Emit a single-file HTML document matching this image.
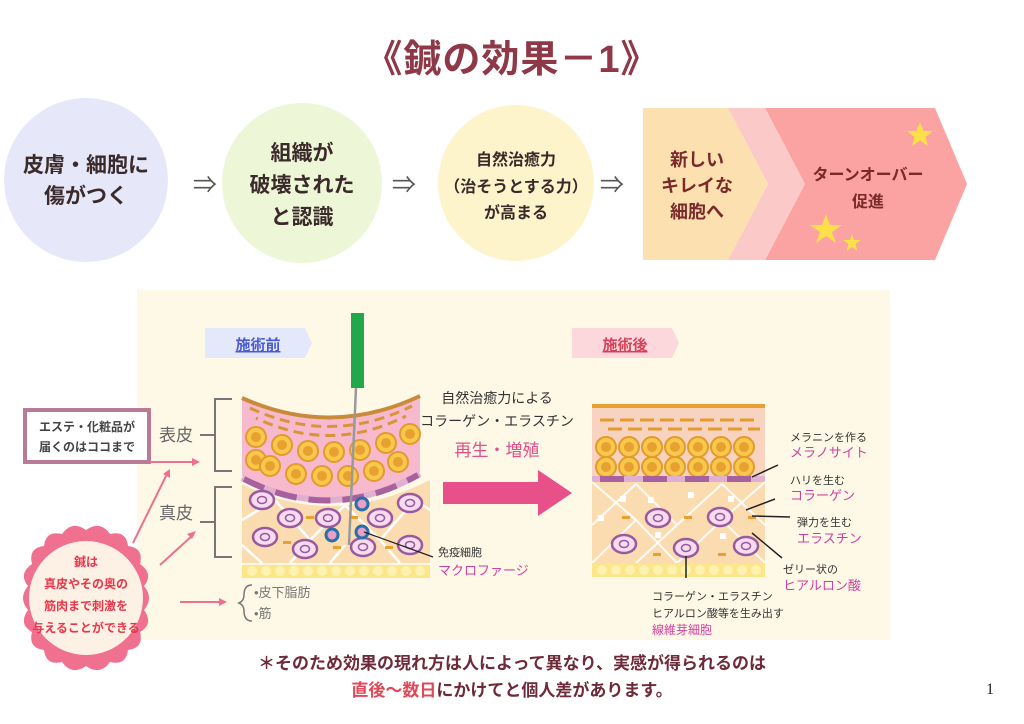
<!DOCTYPE html>
<html><head><meta charset="utf-8"><style>
html,body{margin:0;padding:0;background:#fff;}
svg{display:block;font-family:"Liberation Sans","Noto Sans CJK JP",sans-serif;}
.b{font-weight:bold;}
</style></head><body>
<svg width="1024" height="724" viewBox="0 0 1024 724" xmlns="http://www.w3.org/2000/svg">
<defs>
<g id="ec"><circle r="10" fill="#f7c84a" stroke="#e39a2e" stroke-width="2"/><circle r="5" fill="#e8a030"/></g>
<g id="dc"><ellipse rx="12" ry="9" fill="#f7dcef" stroke="#9a5aa0" stroke-width="2.5"/><ellipse rx="4.5" ry="3.5" fill="none" stroke="#9a5aa0" stroke-width="1.5"/></g>
<g id="ic"><circle r="6" fill="#e9a0c8" stroke="#2b6fa8" stroke-width="3"/></g>
</defs>

<text x="512" y="72" text-anchor="middle" font-size="38" class="b" fill="#8e3848" letter-spacing="1">《鍼の効果－1》</text>

<circle cx="86" cy="180" r="82" fill="#e6e8fa"/>
<text x="86" y="172" text-anchor="middle" font-size="21" class="b" fill="#3a2a2a">皮膚・細胞に</text>
<text x="86" y="203" text-anchor="middle" font-size="21" class="b" fill="#3a2a2a">傷がつく</text>
<circle cx="302" cy="183" r="80" fill="#eef6d8"/>
<text x="302" y="160" text-anchor="middle" font-size="21" class="b" fill="#3a2a2a">組織が</text>
<text x="302" y="192" text-anchor="middle" font-size="21" class="b" fill="#3a2a2a">破壊された</text>
<text x="302" y="224" text-anchor="middle" font-size="21" class="b" fill="#3a2a2a">と認識</text>
<circle cx="516" cy="183" r="78" fill="#fdf4cc"/>
<text x="516" y="165" text-anchor="middle" font-size="16" class="b" fill="#3a2a2a">自然治癒力</text>
<text x="516" y="192" text-anchor="middle" font-size="16" class="b" fill="#3a2a2a">（治そうとする力）</text>
<text x="516" y="218" text-anchor="middle" font-size="16" class="b" fill="#3a2a2a">が高まる</text>
<text x="205" y="193" text-anchor="middle" font-size="24" fill="#555">⇒</text>
<text x="404" y="193" text-anchor="middle" font-size="24" fill="#555">⇒</text>
<text x="612" y="193" text-anchor="middle" font-size="24" fill="#555">⇒</text>

<polygon points="765,108 935,108 967,184 935,260 765,260 805,184" fill="#fba2a2"/>
<polygon points="728,108 765,108 805,184 765,260 728,260 768,184" fill="#fcc9c9"/>
<polygon points="643,108 728,108 768,184 728,260 643,260" fill="#fde0b0"/>
<text x="697" y="166" text-anchor="middle" font-size="18" class="b" fill="#7a2a2a">新しい</text>
<text x="697" y="192" text-anchor="middle" font-size="18" class="b" fill="#7a2a2a">キレイな</text>
<text x="697" y="218" text-anchor="middle" font-size="18" class="b" fill="#7a2a2a">細胞へ</text>
<text x="868" y="180" text-anchor="middle" font-size="16" class="b" fill="#7a2a2a">ターンオーバー</text>
<text x="868" y="207" text-anchor="middle" font-size="16" class="b" fill="#7a2a2a">促進</text>
<g fill="#fbe04a">
<polygon points="920,122 923.5,131 933,131 925.5,137 928,146 920,140.5 912,146 914.5,137 907,131 916.5,131"/>
<polygon points="826,214 830,225 842,225 832,232 836,243 826,236 816,243 820,232 810,225 822,225"/>
<polygon points="852,234 854.2,240 861,240 855.5,244 857.5,251 852,247 846.5,251 848.5,244 843,240 849.8,240"/>
</g>

<rect x="137" y="290" width="753" height="350" fill="#fdf9e6"/>

<polygon points="205,328 305,328 312,343 305,358 205,358" fill="#e4e8fb"/>
<text x="258" y="350" text-anchor="middle" font-size="15" class="b" fill="#4a5ad0" text-decoration="underline">施術前</text>
<polygon points="572,328 672,328 679,343 672,358 572,358" fill="#fcd8dc"/>
<text x="625" y="350" text-anchor="middle" font-size="15" class="b" fill="#d8405a" text-decoration="underline">施術後</text>

<path d="M242,400 Q331,440 420,398 L420,472 Q331,522 242,476 Z" fill="#f6b9cd"/>
<path d="M242,398 Q331,438 420,396" fill="none" stroke="#c98a3a" stroke-width="4"/>
<path d="M250,408 Q331,446 412,406" fill="none" stroke="#d99438" stroke-width="3" stroke-dasharray="10,6"/>
<path d="M256,418 Q331,454 406,416" fill="none" stroke="#d99438" stroke-width="3" stroke-dasharray="10,6" stroke-dashoffset="8"/>
<use href="#ec" x="256" y="437"/><use href="#ec" x="282" y="445"/><use href="#ec" x="308" y="451"/><use href="#ec" x="334" y="452"/><use href="#ec" x="360" y="450"/><use href="#ec" x="386" y="443"/><use href="#ec" x="410" y="434"/>
<use href="#ec" x="256" y="460"/><use href="#ec" x="270" y="466"/><use href="#ec" x="296" y="474"/><use href="#ec" x="322" y="476"/><use href="#ec" x="348" y="476"/><use href="#ec" x="374" y="471"/><use href="#ec" x="398" y="462"/>
<path d="M242,478 Q331,524 420,474" fill="none" stroke="#e0b0d0" stroke-width="6"/>
<path d="M244,479 Q331,524 418,475" fill="none" stroke="#a8609e" stroke-width="6" stroke-dasharray="22,12"/>
<path d="M242,484 Q331,530 430,480 L430,563 L242,563 Z" fill="#fbdcb0"/>
<path d="M242,520 L275,500 L310,540 L345,505 L380,540 L415,500 L430,510 M242,545 L262,563 M290,563 L310,540 M330,563 L345,545 M380,540 L400,563" fill="none" stroke="#fff" stroke-width="2.5"/>
<use href="#dc" x="262" y="500"/><use href="#dc" x="290" y="518"/><use href="#dc" x="328" y="518"/><use href="#dc" x="380" y="518"/><use href="#dc" x="410" y="503"/>
<use href="#dc" x="265" y="537"/><use href="#dc" x="305" y="549"/><use href="#dc" x="363" y="547"/><use href="#dc" x="410" y="545"/>
<g fill="#e8a030"><rect x="306" y="516" width="8" height="3"/><rect x="350" y="516" width="8" height="3"/><rect x="283" y="541" width="8" height="3"/><rect x="333" y="546" width="8" height="3"/><rect x="385" y="546" width="8" height="3"/></g>
<use href="#ic" x="362" y="504"/><use href="#ic" x="332" y="535"/><use href="#ic" x="362" y="532"/>
<rect x="242" y="565" width="188" height="13" fill="#fde58a"/>
<g fill="#fdf2b0"><circle cx="252" cy="571" r="5"/><circle cx="266" cy="571" r="5"/><circle cx="280" cy="571" r="5"/><circle cx="294" cy="571" r="5"/><circle cx="308" cy="571" r="5"/><circle cx="322" cy="571" r="5"/><circle cx="336" cy="571" r="5"/><circle cx="350" cy="571" r="5"/><circle cx="364" cy="571" r="5"/><circle cx="378" cy="571" r="5"/><circle cx="392" cy="571" r="5"/><circle cx="406" cy="571" r="5"/><circle cx="420" cy="571" r="5"/></g>
<rect x="351" y="313" width="13" height="75" fill="#22a84a"/>
<line x1="356" y1="388" x2="349" y2="545" stroke="#999" stroke-width="2.5"/>
<line x1="364" y1="532" x2="433" y2="557" stroke="#222" stroke-width="1.2"/>
<text x="438" y="556" font-size="11" fill="#333">免疫細胞</text>
<text x="438" y="575" font-size="13" fill="#d040a0">マクロファージ</text>

<text x="176" y="441" text-anchor="middle" font-size="17" fill="#666">表皮</text>
<text x="176" y="519" text-anchor="middle" font-size="17" fill="#666">真皮</text>
<path d="M232,399 L215,399 L215,471 L232,471 M200,435 L215,435" fill="none" stroke="#777" stroke-width="2"/>
<path d="M232,487 L215,487 L215,557 L232,557 M200,522 L215,522" fill="none" stroke="#777" stroke-width="2"/>
<rect x="25" y="410" width="124" height="52" fill="#fff" stroke="#b87a95" stroke-width="4"/>
<text x="87" y="431" text-anchor="middle" font-size="12" class="b" fill="#444">エステ・化粧品が</text>
<text x="87" y="451" text-anchor="middle" font-size="12" class="b" fill="#444">届くのはココまで</text>
<g stroke="#ec7090" stroke-width="2" fill="#ec7090">
<line x1="149" y1="462" x2="196" y2="462"/><polygon points="200,462 192,458 192,466" stroke="none"/>
<line x1="133" y1="543" x2="167" y2="474"/><polygon points="170,469 163,474 170,478" stroke="none"/>
<line x1="160" y1="565" x2="193" y2="535"/><polygon points="196,531 187,534 192,539" stroke="none"/>
<line x1="180" y1="602" x2="222" y2="602"/><polygon points="227,602 219,598 219,606" stroke="none"/>
</g>
<path d="M252,585 Q244,585 244,595 Q244,601 239,603 Q244,605 244,611 Q244,621 252,621" fill="none" stroke="#777" stroke-width="1.5"/>
<text x="254" y="597" font-size="13" fill="#777">•皮下脂肪</text>
<text x="254" y="618" font-size="13" fill="#777">•筋</text>

<path d="M86,530 Q100,520 110,534 Q126,530 128,546 Q144,548 140,564 Q154,574 144,586 Q154,598 144,610 Q154,624 140,632 Q144,648 128,650 Q126,666 110,662 Q100,676 86,666 Q72,676 62,662 Q46,666 44,650 Q28,648 32,632 Q18,624 28,610 Q18,598 28,586 Q18,574 32,564 Q28,548 44,546 Q46,530 62,534 Q72,520 86,530 Z" fill="#f07090"/>
<circle cx="86" cy="598" r="57" fill="#fdf0e4"/>
<text x="86" y="566" text-anchor="middle" font-size="12" class="b" fill="#e8354a">鍼は</text>
<text x="86" y="588" text-anchor="middle" font-size="12" class="b" fill="#e8354a">真皮やその奥の</text>
<text x="86" y="610" text-anchor="middle" font-size="12" class="b" fill="#e8354a">筋肉まで刺激を</text>
<text x="86" y="632" text-anchor="middle" font-size="12" class="b" fill="#e8354a">与えることができる</text>

<text x="497" y="403" text-anchor="middle" font-size="14" fill="#333">自然治癒力による</text>
<text x="497" y="426" text-anchor="middle" font-size="14" fill="#333">コラーゲン・エラスチン</text>
<text x="497" y="456" text-anchor="middle" font-size="17" fill="#e0508a">再生・増殖</text>
<rect x="443" y="482" width="100" height="22" fill="#e8508a"/>
<polygon points="538,470 572,493 538,516" fill="#e8508a"/>

<rect x="592" y="405" width="173" height="73" fill="#f8d3c0"/>
<rect x="592" y="404" width="173" height="4" fill="#e8a030"/>
<g stroke="#e39a2e" stroke-width="3" stroke-dasharray="14,6"><line x1="600" y1="420" x2="760" y2="420"/><line x1="608" y1="429" x2="760" y2="429"/></g>
<use href="#ec" x="606" y="447"/><use href="#ec" x="629" y="447"/><use href="#ec" x="652" y="447"/><use href="#ec" x="675" y="447"/><use href="#ec" x="698" y="447"/><use href="#ec" x="721" y="447"/><use href="#ec" x="744" y="447"/>
<use href="#ec" x="606" y="467"/><use href="#ec" x="629" y="467"/><use href="#ec" x="652" y="467"/><use href="#ec" x="675" y="467"/><use href="#ec" x="698" y="467"/><use href="#ec" x="721" y="467"/><use href="#ec" x="744" y="467"/>
<rect x="592" y="476" width="173" height="6" fill="#e0b0d0"/>
<g fill="#a8609e"><rect x="600" y="476" width="24" height="6"/><rect x="643" y="476" width="24" height="6"/><rect x="685" y="476" width="24" height="6"/><rect x="727" y="476" width="24" height="6"/></g>
<rect x="592" y="482" width="173" height="82" fill="#fbdcb0"/>
<path d="M592,525 L636,484 L677,525 L722,484 L765,525 M592,563 L636,520 L677,563 L722,520 L765,563 M636,520 L592,482 M677,525 L636,563 M722,520 L765,482" fill="none" stroke="#fff" stroke-width="2" opacity="0.9"/>
<g fill="#fff"><rect x="620" y="496" width="6" height="6"/><rect x="648" y="497" width="6" height="6"/><rect x="688" y="492" width="6" height="6"/><rect x="728" y="496" width="6" height="6"/><rect x="598" y="515" width="6" height="6"/><rect x="655" y="532" width="6" height="6"/><rect x="720" y="533" width="6" height="6"/></g>
<g fill="#e8a030"><rect x="622" y="516" width="8" height="3"/><rect x="684" y="516" width="8" height="3"/><rect x="748" y="516" width="8" height="3"/><rect x="653" y="553" width="8" height="3"/><rect x="718" y="553" width="8" height="3"/></g>
<use href="#dc" x="658" y="518"/><use href="#dc" x="720" y="517"/><use href="#dc" x="624" y="544"/><use href="#dc" x="686" y="548"/><use href="#dc" x="746" y="546"/>
<rect x="592" y="563" width="173" height="14" fill="#fde58a"/>
<g fill="#fdf2b0"><circle cx="602" cy="570" r="5"/><circle cx="616" cy="570" r="5"/><circle cx="630" cy="570" r="5"/><circle cx="644" cy="570" r="5"/><circle cx="658" cy="570" r="5"/><circle cx="672" cy="570" r="5"/><circle cx="686" cy="570" r="5"/><circle cx="700" cy="570" r="5"/><circle cx="714" cy="570" r="5"/><circle cx="728" cy="570" r="5"/><circle cx="742" cy="570" r="5"/><circle cx="756" cy="570" r="5"/></g>
<g stroke="#222" stroke-width="1.5">
<line x1="752" y1="477" x2="778" y2="465"/>
<line x1="746" y1="510" x2="775" y2="499"/>
<line x1="752" y1="516" x2="790" y2="517"/>
<line x1="752" y1="533" x2="782" y2="558"/>
<line x1="686" y1="556" x2="686" y2="578"/>
</g>
<text x="790" y="441" font-size="11" fill="#333">メラニンを作る</text>
<text x="790" y="457" font-size="13" fill="#d040a0">メラノサイト</text>
<text x="790" y="484" font-size="11" fill="#333">ハリを生む</text>
<text x="790" y="500" font-size="13" fill="#d040a0">コラーゲン</text>
<text x="797" y="526" font-size="11" fill="#333">弾力を生む</text>
<text x="797" y="543" font-size="13" fill="#d040a0">エラスチン</text>
<text x="783" y="573" font-size="11" fill="#333">ゼリー状の</text>
<text x="783" y="590" font-size="13" fill="#d040a0">ヒアルロン酸</text>
<text x="652" y="600" font-size="11" fill="#333">コラーゲン・エラスチン</text>
<text x="652" y="617" font-size="11" fill="#333">ヒアルロン酸等を生み出す</text>
<text x="652" y="634" font-size="12" fill="#d040a0">線維芽細胞</text>

<text x="512" y="669" text-anchor="middle" font-size="17" class="b" fill="#6e2a38">＊そのため効果の現れ方は人によって異なり、実感が得られるのは</text>
<text x="512" y="696" text-anchor="middle" font-size="17" class="b" fill="#6e2a38"><tspan fill="#e04858">直後〜数日</tspan>にかけてと個人差があります。</text>
<text x="990" y="694" text-anchor="middle" font-size="16" fill="#222" font-family="Liberation Serif, serif">1</text>
</svg>
</body></html>
